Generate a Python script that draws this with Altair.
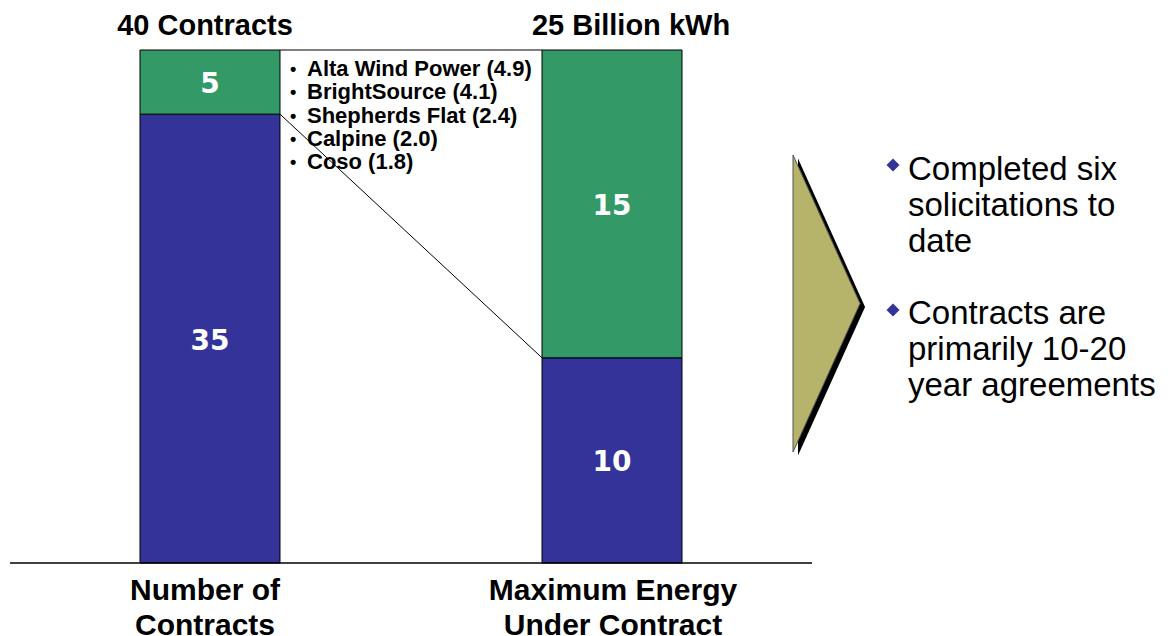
import altair as alt
import pandas as pd

# ---- data ----
categories = ["Number of Contracts", "Maximum Energy Under Contract"]
axis_labels = ["Number of\nContracts", "Maximum Energy\nUnder Contract"]
totals_labels = ["40 Contracts", "25 Billion kWh"]
blue_values = [35, 10]
green_values = [5, 15]
segments = ["blue", "green"]
contracts_list = [
    "Alta Wind Power (4.9)",
    "BrightSource (4.1)",
    "Shepherds Flat (2.4)",
    "Calpine (2.0)",
    "Coso (1.8)",
]
bullets_right = [
    "Completed six\nsolicitations to\ndate",
    "Contracts are\nprimarily 10-20\nyear agreements",
]

# ---- layout constants (pixels) ----
label_px = [205, 613]
total_px = [205, 631]
right_text_py = [180, 324]
diamond_py = [165, 310]

BLUE = "#333399"
GREEN = "#339966"
OLIVE = "#B5B46A"

rows = []
for c, b, g in zip(categories, blue_values, green_values):
    rows.append({"category": c, "segment": "blue", "order": 0, "value": b})
    rows.append({"category": c, "segment": "green", "order": 1, "value": g})
df = pd.DataFrame(rows)

xscale = alt.Scale(domain=categories, range=[10, 812],
                   paddingInner=0.65174, paddingOuter=0.32338)
yscale = alt.Scale(domain=[0, 1], range=[563, 50])

base = alt.Chart(df).transform_stack(
    stack="value", groupby=["category"], as_=["y0", "y1"],
    offset="normalize", sort=[alt.SortField("order", "ascending")]
).transform_calculate(mid="(datum.y0 + datum.y1) / 2")

bars = base.mark_bar(stroke="black", strokeWidth=1).encode(
    x=alt.X("category:N", scale=xscale, axis=None),
    y=alt.Y("y0:Q", scale=yscale, axis=None),
    y2="y1:Q",
    color=alt.Color("segment:N", scale=alt.Scale(domain=segments, range=[BLUE, GREEN]), legend=None),
)

bar_text = base.mark_text(font="DejaVu Sans", fontWeight="bold", fontSize=28,
                          color="white", baseline="middle", dy=3).encode(
    x=alt.X("category:N", scale=xscale, axis=None),
    y=alt.Y("mid:Q", scale=yscale, axis=None),
    text="value:Q",
)

# bottom category labels
lab_df = pd.DataFrame({"label": axis_labels, "px": label_px})
bottom_labels = alt.Chart(lab_df).mark_text(
    font="Liberation Sans", fontWeight="bold", fontSize=30, lineBreak="\n",
    lineHeight=35, baseline="alphabetic", align="center", color="black"
).encode(
    x=alt.X("px:Q", scale=None),
    y=alt.value(600),
    text="label:N",
)

# top totals
tot_df = pd.DataFrame({"label": totals_labels, "px": total_px})
top_labels = alt.Chart(tot_df).mark_text(
    font="Liberation Sans", fontWeight="bold", fontSize=29,
    baseline="alphabetic", align="center", color="black"
).encode(
    x=alt.X("px:Q", scale=None),
    y=alt.value(35),
    text="label:N",
)

# connector line between top of blue segments
conn_df = pd.DataFrame({
    "y_from": [blue_values[0] / (blue_values[0] + green_values[0])],
    "y_to": [blue_values[1] / (blue_values[1] + green_values[1])],
})
connector = alt.Chart(conn_df).mark_rule(color="black", strokeWidth=1).encode(
    x=alt.value(280), x2=alt.value(542),
    y=alt.Y("y_from:Q", scale=yscale, axis=None), y2="y_to:Q",
)

one = alt.Data(values=[{"a": 1}])
box_top = alt.Chart(one).mark_rule(color="black", strokeWidth=1.2).encode(
    x=alt.value(280), x2=alt.value(542), y=alt.value(50)
)
baseline_rule = alt.Chart(one).mark_rule(color="black", strokeWidth=1.5).encode(
    x=alt.value(10), x2=alt.value(812), y=alt.value(563)
)

# contracts list
list_df = pd.DataFrame({"t": ["\n".join(contracts_list)],
                        "b": ["\n".join("\u2022" for _ in contracts_list)]})
list_mark = alt.Chart(list_df).mark_text(
    font="Liberation Sans", fontWeight="bold", fontSize=22, lineBreak="\n",
    lineHeight=23.3, align="left", baseline="alphabetic", color="black"
).encode(x=alt.value(307), y=alt.value(76), text="t:N")
list_bullets = alt.Chart(list_df).mark_text(
    font="Liberation Sans", fontWeight="bold", fontSize=18, lineBreak="\n",
    lineHeight=23.3, align="left", baseline="alphabetic", color="black"
).encode(x=alt.value(290), y=alt.value(75), text="b:N")

# chevron arrow
tri_path = "M 0 -0.99 L 0.447 0 L 0 0.99 Z"
shadow = alt.Chart(one).mark_point(
    shape=tri_path, filled=True, fill="black", opacity=1, size=90000, strokeWidth=0
).encode(x=alt.value(798), y=alt.value(307))
arrow = alt.Chart(one).mark_point(
    shape=tri_path, filled=True, fill=OLIVE, stroke="#555555", strokeWidth=1,
    opacity=1, size=90000
).encode(x=alt.value(793), y=alt.value(303.5))

# right bullets
rb_df = pd.DataFrame({"t": bullets_right, "py": right_text_py, "dy": diamond_py})
right_text = alt.Chart(rb_df).mark_text(
    font="Liberation Sans", fontSize=33, lineBreak="\n", lineHeight=36,
    align="left", baseline="alphabetic", color="black"
).encode(x=alt.value(908), y=alt.Y("py:Q", scale=None), text="t:N")
diamonds = alt.Chart(rb_df).mark_point(
    shape="diamond", filled=True, color=BLUE, size=170, opacity=1
).encode(x=alt.value(893), y=alt.Y("dy:Q", scale=None))

chart = alt.layer(
    bars, bar_text, connector, box_top, baseline_rule, list_bullets, list_mark,
    bottom_labels, top_labels, shadow, arrow, right_text, diamonds
).properties(
    width=1168, height=636, padding=0, autosize="none", background="white"
).configure_view(strokeWidth=0)

chart.save("out.html", embed_options={"renderer": "svg", "actions": False})
